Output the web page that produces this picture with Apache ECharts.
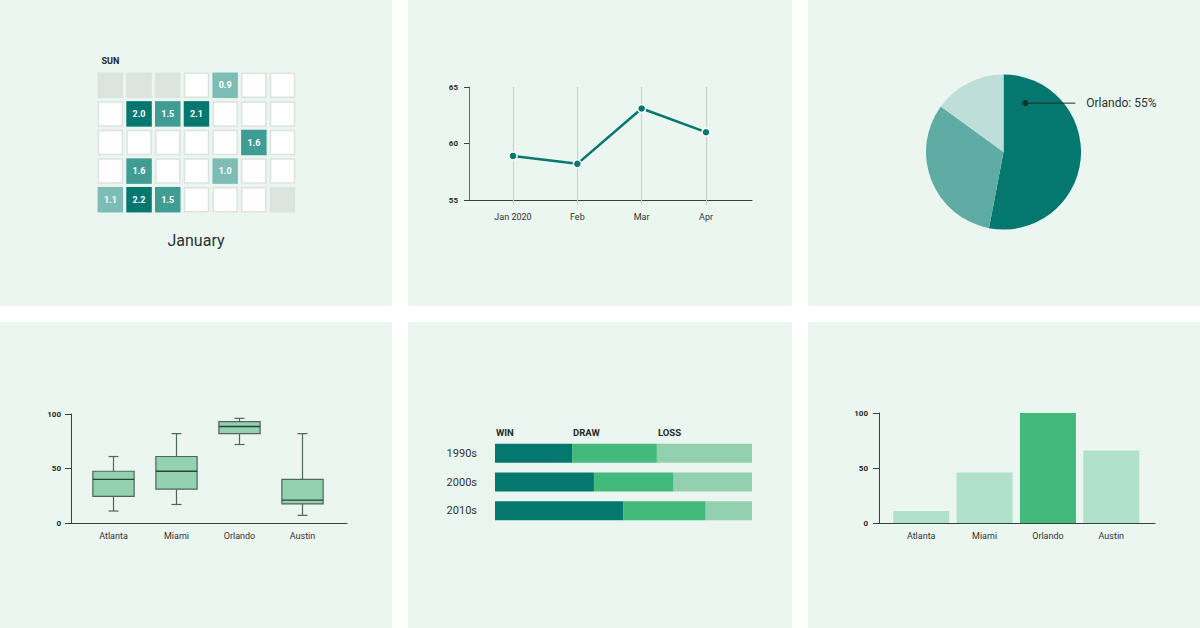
<!DOCTYPE html>
<html>
<head>
<meta charset="utf-8">
<script src="https://cdn.jsdelivr.net/npm/echarts@6/dist/echarts.min.js"></script>
<style>
  html, body { margin: 0; padding: 0; background: #ffffff; width: 1200px; height: 628px; overflow: hidden; }
  .panel { position: absolute; background: #ECF6F0; }
</style>
</head>
<body>
<div class="panel" id="p1" style="left:0;top:0;width:392px;height:306px"></div>
<div class="panel" id="p2" style="left:408px;top:0;width:384px;height:306px"></div>
<div class="panel" id="p3" style="left:808px;top:0;width:392px;height:306px"></div>
<div class="panel" id="p4" style="left:0;top:322px;width:392px;height:306px"></div>
<div class="panel" id="p5" style="left:408px;top:322px;width:384px;height:306px"></div>
<div class="panel" id="p6" style="left:808px;top:322px;width:392px;height:306px"></div>
<script>
// ---------------- DATA ----------------
// Calendar (January 2020)
const calendarRange = ['2019-12-29', '2020-02-01'];
const calendarMonthName = 'January';
const dayLabels = ['SUN', '', '', '', '', '', ''];
const outsideDays = ['2019-12-29', '2019-12-30', '2019-12-31', '2020-02-01'];
const calendarValues = [
  ['2020-01-02', 0.9],
  ['2020-01-06', 2.0],
  ['2020-01-07', 1.5],
  ['2020-01-08', 2.1],
  ['2020-01-17', 1.6],
  ['2020-01-20', 1.6],
  ['2020-01-23', 1.0],
  ['2020-01-26', 1.1],
  ['2020-01-27', 2.2],
  ['2020-01-28', 1.5]
];
// Line chart
const lineMonths = ['Jan 2020', 'Feb', 'Mar', 'Apr'];
const lineValues = [58.9, 58.2, 63.1, 61.0];
const lineTicks = { min: 55, max: 65, interval: 5 };
// Pie
const pieNames = ['Orlando', 'Miami', 'Atlanta'];
const pieValues = [53, 32, 15];
const pieLabelPct = 55;
// Box plot: [min, Q1, median, Q3, max]
const cities = ['Atlanta', 'Miami', 'Orlando', 'Austin'];
const boxStats = [
  [11, 24.5, 40, 47.5, 61],
  [17, 31, 47.5, 61, 82],
  [72, 82, 88.5, 93, 96],
  [7, 17.5, 21, 40, 82]
];
// Stacked bars
const decades = ['1990s', '2000s', '2010s'];
const outcomeNames = ['WIN', 'DRAW', 'LOSS'];
const winPct = [30, 38.5, 50];
const drawPct = [33, 31, 32];
const lossPct = [37, 30.5, 18];
// Bars
const barValues = [11, 46, 100, 66];
const highlightCity = 'Orlando';

// ---------------- STYLE ----------------
const FONT = 'Roboto';
const teal = '#04786F';
const axisColor = '#34443D';
const tickLabel = { fontSize: 8, fontWeight: 'bold', color: '#1F2A26', fontFamily: FONT };
const catLabel = { fontSize: 9, color: '#333', fontFamily: FONT };

function mk(id) { return echarts.init(document.getElementById(id), null, { renderer: 'svg' }); }

// ---------------- 1. Calendar ----------------
(function () {
  const chart = mk('p1');
  const valued = new Set(calendarValues.map(d => d[0]));
  const emptyDays = [];
  for (let d = 1; d <= 31; d++) {
    const s = '2020-01-' + String(d).padStart(2, '0');
    if (!valued.has(s)) emptyDays.push([s, 0]);
  }
  chart.setOption({
    textStyle: { fontFamily: FONT },
    title: { text: calendarMonthName, left: 'center', top: 227, textStyle: { fontSize: 16, fontWeight: 'normal', color: '#2b3330', fontFamily: FONT } },
    calendar: {
      orient: 'vertical', range: calendarRange,
      left: 96, top: 71, cellSize: [28.7, 28.6],
      splitLine: { show: false },
      itemStyle: { color: 'transparent', borderWidth: 0 },
      dayLabel: { firstDay: 0, nameMap: dayLabels, position: 'start', margin: 6, color: '#222', fontSize: 9, fontWeight: 'bold', fontFamily: FONT },
      monthLabel: { show: false },
      yearLabel: { show: false }
    },
    visualMap: {
      show: false, type: 'piecewise', seriesIndex: 2, dimension: 1,
      pieces: [
        { lt: 1.3, color: '#7DBDB6' },
        { gte: 1.3, lt: 1.8, color: '#3F9D94' },
        { gte: 1.8, color: teal }
      ]
    },
    series: [
      { type: 'scatter', coordinateSystem: 'calendar', symbol: 'rect', symbolSize: 25.5, silent: true,
        data: outsideDays.map(d => [d, 0]), itemStyle: { color: '#DCE4E0', opacity: 1 } },
      { type: 'scatter', coordinateSystem: 'calendar', symbol: 'rect', symbolSize: 24, silent: true,
        data: emptyDays, itemStyle: { color: '#FFFFFF', borderColor: '#DCE3DF', borderWidth: 1.5, opacity: 1 } },
      { type: 'scatter', coordinateSystem: 'calendar', symbol: 'rect', symbolSize: 25.5, silent: true,
        data: calendarValues, itemStyle: { opacity: 1 },
        label: { show: true, position: 'inside', formatter: p => p.value[1].toFixed(1), color: '#fff', fontSize: 9, fontWeight: 'bold', fontFamily: FONT } }
    ]
  });
})();

// ---------------- 2. Line ----------------
(function () {
  const chart = mk('p2');
  chart.setOption({
    textStyle: { fontFamily: FONT },
    grid: [
      { left: 61, right: 40, top: 87, bottom: 106 },
      { left: 105, right: 86, top: 87, bottom: 106 }
    ],
    xAxis: [
      { gridIndex: 0, type: 'value', min: 0, max: 1, axisLine: { show: true, lineStyle: { color: axisColor } }, axisTick: { show: false }, axisLabel: { show: false }, splitLine: { show: false } },
      { gridIndex: 1, type: 'category', data: lineMonths, boundaryGap: false, axisLine: { show: false },
        axisTick: { show: true, length: 5, lineStyle: { color: '#C3D1CA' } },
        axisLabel: Object.assign({ margin: 12 }, catLabel),
        splitLine: { show: true, lineStyle: { color: '#C3D1CA', width: 1 } } }
    ],
    yAxis: [
      { gridIndex: 0, type: 'value', min: lineTicks.min, max: lineTicks.max, interval: lineTicks.interval,
        axisLine: { show: true, lineStyle: { color: '#5E6E67' } }, axisTick: { show: true, length: 5, lineStyle: { color: axisColor } },
        axisLabel: Object.assign({ margin: 11 }, tickLabel), splitLine: { show: false } },
      { gridIndex: 1, type: 'value', min: lineTicks.min, max: lineTicks.max, show: false }
    ],
    series: [{
      type: 'line', xAxisIndex: 1, yAxisIndex: 1, data: lineValues,
      symbol: 'circle', symbolSize: 8,
      lineStyle: { color: teal, width: 2.5 },
      itemStyle: { color: teal, borderColor: '#fff', borderWidth: 1.5 }
    }]
  });
})();

// ---------------- 3. Pie ----------------
(function () {
  const chart = mk('p3');
  const cx = 195.5, cy = 152, r = 77.5;
  const ang = 24 * Math.PI / 180, rr = r * 0.69;
  const dotX = cx + rr * Math.sin(ang), dotY = cy - rr * Math.cos(ang);
  chart.setOption({
    textStyle: { fontFamily: FONT },
    color: [teal, '#5FACA5', '#BEDFD9'],
    series: [{
      type: 'pie', center: [cx, cy], radius: r, startAngle: 90, clockwise: true,
      label: { show: false }, labelLine: { show: false }, silent: true,
      data: pieNames.map((n, i) => ({ name: n, value: pieValues[i] }))
    }],
    graphic: [
      { type: 'line', shape: { x1: dotX, y1: dotY, x2: dotX + 50, y2: dotY }, style: { stroke: '#1f2a26', lineWidth: 1 }, z: 10 },
      { type: 'circle', shape: { cx: dotX, cy: dotY, r: 3 }, style: { fill: '#16302a' }, z: 10 },
      { type: 'text', x: dotX + 61, y: dotY, style: { text: pieNames[0] + ': ' + pieLabelPct + '%', fill: '#2b3330', fontSize: 12, fontFamily: FONT, verticalAlign: 'middle', align: 'left' }, z: 10 }
    ]
  });
})();

// ---------------- 4. Box plot ----------------
(function () {
  const chart = mk('p4');
  const boxStroke = '#4F665C', medianColor = '#2B4238', boxFill = '#94D1B0';
  function renderBox(params, api) {
    const x = api.value(0);
    const mn = api.value(1), q1 = api.value(2), md = api.value(3), q3 = api.value(4), mx = api.value(5);
    const pMax = api.coord([x, mx]), pQ3 = api.coord([x, q3]), pMd = api.coord([x, md]);
    const pQ1 = api.coord([x, q1]), pMin = api.coord([x, mn]);
    const band = api.size([1, 0])[0];
    const half = band * 0.655 / 2, cap = 5;
    const c = pMax[0];
    const ls = { stroke: boxStroke, lineWidth: 1.2 };
    return { type: 'group', children: [
      { type: 'line', shape: { x1: c, y1: pMax[1], x2: c, y2: pQ3[1] }, style: ls },
      { type: 'line', shape: { x1: c, y1: pQ1[1], x2: c, y2: pMin[1] }, style: ls },
      { type: 'line', shape: { x1: c - cap, y1: pMax[1], x2: c + cap, y2: pMax[1] }, style: ls },
      { type: 'line', shape: { x1: c - cap, y1: pMin[1], x2: c + cap, y2: pMin[1] }, style: ls },
      { type: 'rect', shape: { x: c - half, y: pQ3[1], width: 2 * half, height: pQ1[1] - pQ3[1] }, style: { fill: boxFill, stroke: boxStroke, lineWidth: 1.2 } },
      { type: 'line', shape: { x1: c - half, y1: pMd[1], x2: c + half, y2: pMd[1] }, style: { stroke: medianColor, lineWidth: 1.4 } }
    ] };
  }
  chart.setOption({
    textStyle: { fontFamily: FONT },
    grid: [
      { left: 71, right: 45, top: 92, bottom: 105 },
      { left: 82, right: 58, top: 92, bottom: 105 }
    ],
    xAxis: [
      { gridIndex: 0, type: 'value', min: 0, max: 1, axisLine: { show: true, lineStyle: { color: axisColor } }, axisTick: { show: false }, axisLabel: { show: false }, splitLine: { show: false } },
      { gridIndex: 1, type: 'category', data: cities, axisLine: { show: false }, axisTick: { show: false }, axisLabel: Object.assign({ margin: 8 }, catLabel) }
    ],
    yAxis: [
      { gridIndex: 0, type: 'value', min: 0, max: 100, interval: 50, axisLine: { show: true, lineStyle: { color: axisColor } },
        axisTick: { show: true, length: 6 }, axisLabel: Object.assign({ margin: 10 }, tickLabel), splitLine: { show: false } },
      { gridIndex: 1, type: 'value', min: 0, max: 100, show: false }
    ],
    series: [{
      type: 'custom', xAxisIndex: 1, yAxisIndex: 1, renderItem: renderBox, silent: true,
      encode: { x: 0, y: [1, 2, 3, 4, 5] },
      data: boxStats.map((s, i) => [i].concat(s))
    }]
  });
})();

// ---------------- 5. Stacked bars ----------------
(function () {
  const chart = mk('p5');
  const cols = [teal, '#43BA7C', '#93D0AF'];
  const sets = [winPct, drawPct, lossPct];
  chart.setOption({
    textStyle: { fontFamily: FONT },
    grid: { left: 87, right: 40, top: 117, height: 86 },
    xAxis: { type: 'value', min: 0, max: 100, show: false },
    yAxis: { type: 'category', data: decades, inverse: true, axisLine: { show: false }, axisTick: { show: false },
      axisLabel: { fontSize: 11, color: '#333', fontFamily: FONT, margin: 18 } },
    series: outcomeNames.map((name, k) => ({
      type: 'bar', name: name, stack: 'total', barWidth: 19, silent: true,
      itemStyle: { color: cols[k] },
      label: { show: false, position: [1, -16], formatter: '{a}', color: '#1F2A26', fontSize: 9.5, fontWeight: 'bold', fontFamily: FONT },
      data: sets[k].map((v, i) => i === 0 ? { value: v, label: { show: true } } : v)
    }))
  });
})();

// ---------------- 6. Bars ----------------
(function () {
  const chart = mk('p6');
  chart.setOption({
    textStyle: { fontFamily: FONT },
    grid: [
      { left: 71, right: 45, top: 91, bottom: 105 },
      { left: 81.5, right: 57, top: 91, bottom: 105 }
    ],
    xAxis: [
      { gridIndex: 0, type: 'value', min: 0, max: 1, axisLine: { show: true, lineStyle: { color: axisColor } }, axisTick: { show: false }, axisLabel: { show: false }, splitLine: { show: false } },
      { gridIndex: 1, type: 'category', data: cities, axisLine: { show: false }, axisTick: { show: false }, axisLabel: Object.assign({ margin: 8 }, catLabel) }
    ],
    yAxis: [
      { gridIndex: 0, type: 'value', min: 0, max: 100, interval: 50, axisLine: { show: true, lineStyle: { color: axisColor } },
        axisTick: { show: true, length: 6 }, axisLabel: Object.assign({ margin: 11 }, tickLabel), splitLine: { show: false } },
      { gridIndex: 1, type: 'value', min: 0, max: 100, show: false }
    ],
    series: [{
      type: 'bar', xAxisIndex: 1, yAxisIndex: 1, barWidth: 56, silent: true, z: 1,
      data: barValues.map((v, i) => ({ value: v, itemStyle: { color: cities[i] === highlightCity ? '#43BA7C' : '#B1E1CA' } }))
    }]
  });
})();
</script>
</body>
</html>
